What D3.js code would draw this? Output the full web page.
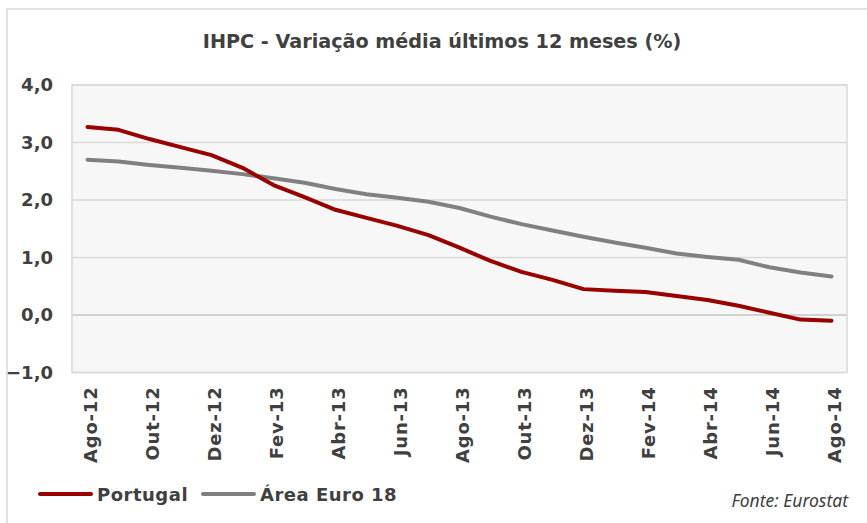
<!DOCTYPE html>
<html>
<head>
<meta charset="utf-8">
<script src="https://cdn.jsdelivr.net/npm/d3@7"></script>
<style>
    body { margin: 0; background: white; }
    text { font-family: "DejaVu Sans", Verdana, sans-serif; fill: #404040; }
</style>
</head>
<body>
<div id="chart"></div>
<script>
// DATA
var months = ["Ago-12", "Set-12", "Out-12", "Nov-12", "Dez-12",
              "Jan-13", "Fev-13", "Mar-13", "Abr-13", "Mai-13", "Jun-13", "Jul-13",
              "Ago-13", "Set-13", "Out-13", "Nov-13", "Dez-13",
              "Jan-14", "Fev-14", "Mar-14", "Abr-14", "Mai-14", "Jun-14", "Jul-14", "Ago-14"];
var tickMonths = ["Ago-12", "Out-12", "Dez-12", "Fev-13", "Abr-13", "Jun-13", "Ago-13",
                  "Out-13", "Dez-13", "Fev-14", "Abr-14", "Jun-14", "Ago-14"];
var portugal = [3.27, 3.22, 3.06, 2.92, 2.78, 2.56, 2.26, 2.05, 1.83, 1.69, 1.55, 1.39,
                1.17, 0.94, 0.75, 0.61, 0.45, 0.42, 0.40, 0.33, 0.26, 0.16, 0.04, -0.08, -0.10];
var euro18 = [2.70, 2.67, 2.61, 2.56, 2.51, 2.45, 2.38, 2.30, 2.19, 2.10, 2.04, 1.97,
              1.86, 1.71, 1.58, 1.47, 1.36, 1.26, 1.17, 1.07, 1.01, 0.96, 0.83, 0.74, 0.67];
var yTicks = [-1, 0, 1, 2, 3, 4];

var series = [
    { name: "Portugal", values: portugal, color: "#990000" },
    { name: "Área Euro 18", values: euro18, color: "#808080" }
];

var width = 867, height = 523;
var plot = { left: 72, right: 847, top: 85, bottom: 372.5 };

var svg = d3.select("#chart")
    .append("svg")
        .attr("width", width)
        .attr("height", height);

// Outer frame
svg.append("rect")
    .attr("x", 7)
    .attr("y", 9)
    .attr("width", 880)
    .attr("height", 540)
    .attr("fill", "white")
    .attr("stroke", "#d9d9d9")
    .attr("stroke-width", 1.5);

// SCALES
var x = d3.scaleBand()
    .domain(months)
    .range([plot.left, plot.right]);

var y = d3.scaleLinear()
    .domain([-1, 4])
    .range([plot.bottom, plot.top]);

// Plot background
svg.append("rect")
    .attr("x", plot.left)
    .attr("y", plot.top)
    .attr("width", plot.right - plot.left)
    .attr("height", plot.bottom - plot.top)
    .attr("fill", "#f7f7f7");

// Gridlines
svg.append("g")
    .selectAll("line")
    .data(yTicks)
    .enter()
    .append("line")
        .attr("x1", plot.left)
        .attr("x2", plot.right)
        .attr("y1", d => y(d))
        .attr("y2", d => y(d))
        .attr("stroke", d => d == 0 ? "#c6c6c6" : "#d9d9d9")
        .attr("stroke-width", 1.3);

// Plot border
svg.append("rect")
    .attr("x", plot.left)
    .attr("y", plot.top)
    .attr("width", plot.right - plot.left)
    .attr("height", plot.bottom - plot.top)
    .attr("fill", "none")
    .attr("stroke", "#d9d9d9")
    .attr("stroke-width", 1.5);

// Y axis
var yAxis = d3.axisLeft(y)
    .tickValues(yTicks)
    .tickSize(0)
    .tickPadding(19)
    .tickFormat(d => d3.format(".1f")(d).replace(".", ","));

svg.append("g")
    .attr("transform", "translate(" + plot.left + ",0)")
    .call(yAxis)
    .call(g => g.select(".domain").remove())
    .selectAll("text")
        .style("font-size", "18px")
        .style("font-weight", "bold")
        .attr("fill", "#404040");

// X axis (rotated labels)
var xAxis = d3.axisBottom(x)
    .tickValues(tickMonths)
    .tickSize(0);

svg.append("g")
    .attr("transform", "translate(0," + plot.bottom + ")")
    .call(xAxis)
    .call(g => g.select(".domain").remove())
    .selectAll("text")
        .attr("y", 0)
        .attr("dy", 0)
        .attr("text-anchor", "end")
        .attr("transform", "translate(9,14) rotate(-90)")
        .style("font-size", "18px")
        .style("font-weight", "bold")
        .style("letter-spacing", "0.8px")
        .attr("fill", "#404040");

// Lines
var line = d3.line()
    .x((d, i) => x(months[i]) + x.bandwidth() / 2)
    .y(d => y(d));

svg.selectAll(".series")
    .data(series.slice().reverse())
    .enter()
    .append("path")
        .attr("class", "series")
        .attr("fill", "none")
        .attr("stroke", d => d.color)
        .attr("stroke-width", 4)
        .attr("stroke-linecap", "round")
        .attr("stroke-linejoin", "round")
        .attr("d", d => line(d.values));

// Title
svg.append("text")
    .attr("x", 442)
    .attr("y", 48)
    .attr("text-anchor", "middle")
    .style("font-size", "19.2px")
    .style("font-weight", "bold")
    .text("IHPC - Variação média últimos 12 meses (%)");

// Legend
var legendX = [40, 203];
var legend = svg.selectAll(".legend")
    .data(series)
    .enter()
    .append("g")
        .attr("class", "legend")
        .attr("transform", (d, i) => "translate(" + legendX[i] + ",494)");

legend.append("line")
    .attr("x1", 0)
    .attr("x2", 51)
    .attr("stroke", d => d.color)
    .attr("stroke-width", 4)
    .attr("stroke-linecap", "round");

legend.append("text")
    .attr("x", 57)
    .attr("y", 7)
    .style("font-size", "18px")
    .style("font-weight", "bold")
    .style("letter-spacing", "0.5px")
    .text(d => d.name);

// Source
svg.append("text")
    .attr("x", 848)
    .attr("y", 507)
    .attr("text-anchor", "end")
    .style("font-family", "'Liberation Sans Narrow', 'Noto Sans', sans-serif")
    .style("font-style", "italic")
    .style("font-size", "17.5px")
    .text("Fonte: Eurostat");
</script>
</body>
</html>
